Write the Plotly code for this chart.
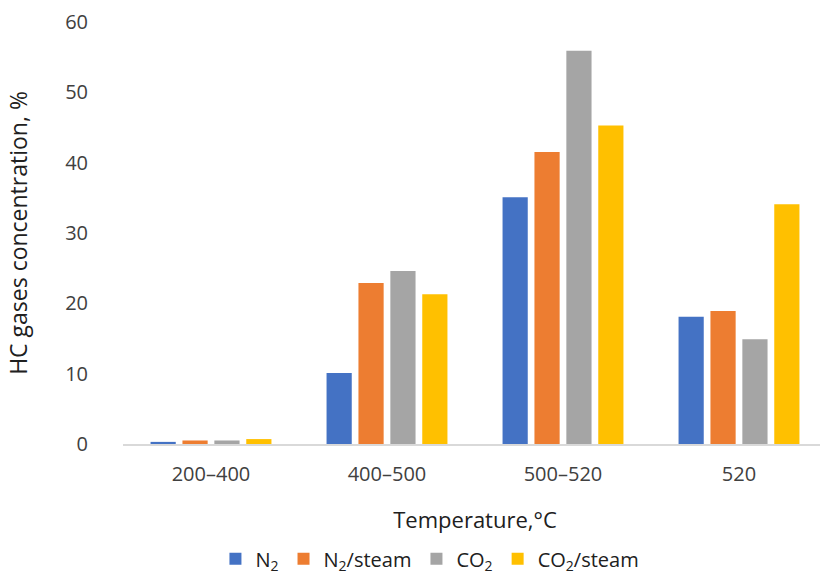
import plotly.graph_objects as go

categories = ["200–400", "400–500", "500–520", "520"]
series_names = ["N<sub>2</sub>", "N<sub>2</sub>/steam", "CO<sub>2</sub>", "CO<sub>2</sub>/steam"]
n2 = [0.3, 10.1, 35.1, 18.1]
n2_steam = [0.5, 22.9, 41.5, 18.9]
co2 = [0.5, 24.6, 55.9, 14.9]
co2_steam = [0.7, 21.3, 45.3, 34.1]
colors = ["#4472C4", "#ED7D31", "#A5A5A5", "#FFC000"]

fig = go.Figure()
for name, vals, c in zip(series_names, [n2, n2_steam, co2, co2_steam], colors):
    fig.add_trace(go.Bar(x=categories, y=vals, name=name, marker=dict(color=c, line=dict(width=0))))

fig.update_layout(
    width=828, height=579,
    margin=dict(l=123, r=1, t=22, b=135),
    paper_bgcolor="white", plot_bgcolor="white",
    barmode="group", bargap=0.275, bargroupgap=0.21,
    font=dict(family="Open Sans, sans-serif", size=20, color="#404040"),
    xaxis=dict(showline=True, linecolor="#d9d9d9", linewidth=1.5, ticks="", automargin=False,
               tickfont=dict(size=20, color="#404040"), ticklabelstandoff=11,
               title=dict(text="Temperature,°C", font=dict(size=22, color="#202020"), standoff=27)),
    yaxis=dict(range=[0, 60], dtick=10, showgrid=False, zeroline=False, showline=False, automargin=False,
               tickfont=dict(size=20, color="#404040"), ticklabelstandoff=34,
               title=dict(text="HC gases concentration, %", font=dict(size=23, color="#202020"), standoff=31)),
    legend=dict(orientation="h", x=0.436, xanchor="center", y=-0.318, yanchor="bottom",
                font=dict(size=20, color="#202020"), itemwidth=30, traceorder="normal"),
)
fig.write_html("out.html", config={"displayModeBar": False},
               post_script="document.body.style.margin='0';document.body.style.overflow='hidden';")
